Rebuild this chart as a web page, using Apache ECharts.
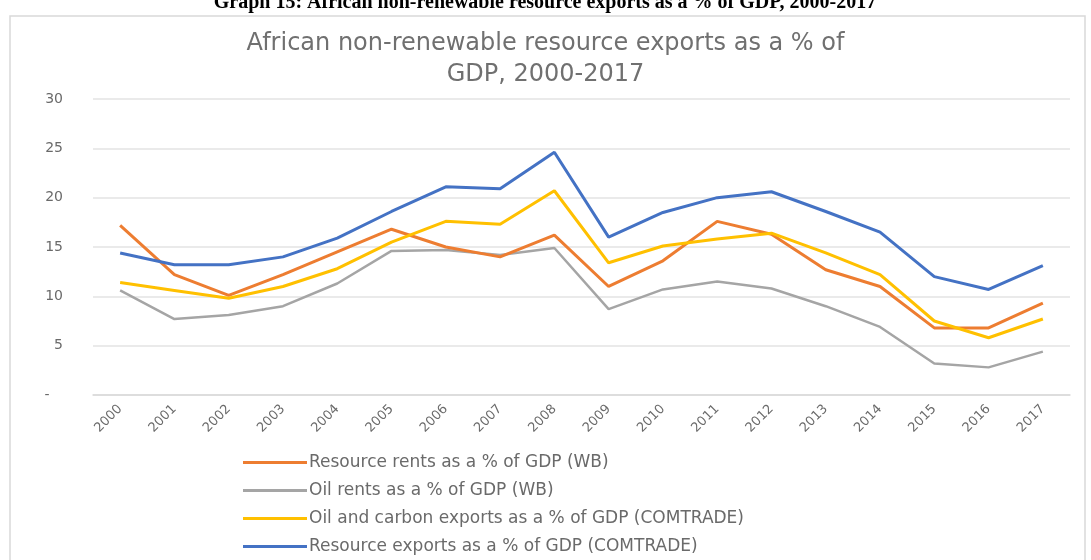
<!DOCTYPE html>
<html>
<head>
<meta charset="utf-8">
<script src="https://cdn.jsdelivr.net/npm/echarts@6/dist/echarts.min.js"></script>
<style>
html,body{margin:0;padding:0;background:#fff;}
#chart{width:1091px;height:560px;}
</style>
</head>
<body>
<div id="chart"></div>
<script>
const years = ['2000','2001','2002','2003','2004','2005','2006','2007','2008','2009','2010','2011','2012','2013','2014','2015','2016','2017'];
const resourceRentsWB = [17.2,12.2,10.1,12.2,14.5,16.8,15.0,14.0,16.2,11.0,13.6,17.6,16.3,12.7,11.0,6.8,6.8,9.3];
const oilRentsWB = [10.6,7.7,8.1,9.0,11.3,14.6,14.7,14.2,14.9,8.7,10.7,11.5,10.8,9.0,6.9,3.2,2.8,4.4];
const oilCarbonComtrade = [11.4,10.6,9.8,11.0,12.8,15.5,17.6,17.3,20.7,13.4,15.1,15.8,16.4,14.4,12.2,7.5,5.8,7.7];
const resourceExportsComtrade = [14.4,13.2,13.2,14.0,15.9,18.6,21.1,20.9,24.6,16.0,18.5,20.0,20.6,18.6,16.5,12.0,10.7,13.1];
const seriesNames = [
  'Resource rents as a % of GDP (WB)',
  'Oil rents as a % of GDP (WB)',
  'Oil and carbon exports as a % of GDP (COMTRADE)',
  'Resource exports as a % of GDP (COMTRADE)'
];
const heading = 'Graph 15: African non-renewable resource exports as a % of GDP, 2000-2017';
const chartTitle = 'African non-renewable resource exports as a % of\nGDP, 2000-2017';

const colors = ['#ED7D31','#A5A5A5','#FFC000','#4472C4'];
const widths = [3,2.5,3,3];
const dataSets = [resourceRentsWB, oilRentsWB, oilCarbonComtrade, resourceExportsComtrade];

const chart = echarts.init(document.getElementById('chart'), null, {renderer:'canvas'});
chart.setOption({
  backgroundColor:'#fff',
  animation:false,
  graphic:[
    {type:'rect', shape:{x:10,y:16,width:1075,height:560}, style:{fill:'#fff', stroke:'#D9D9D9', lineWidth:1.5}, z:-10},
    {type:'text', x:545, y:-7, style:{text:heading, fill:'#000', font:'bold 20px "Liberation Serif"', align:'center', verticalAlign:'top'}}
  ],
  title:{
    text:chartTitle, left:'center', top:23,
    textStyle:{fontFamily:'DejaVu Sans', fontSize:24, fontWeight:'normal', color:'#707070', lineHeight:31}
  },
  grid:{left:93, right:21, top:99, bottom:165, containLabel:false},
  xAxis:{
    type:'category', data:years, boundaryGap:true,
    axisLine:{show:true, lineStyle:{color:'#D9D9D9', width:1.5}},
    axisTick:{show:false},
    axisLabel:{rotate:45, color:'#6A6A6A', fontFamily:'DejaVu Sans', fontSize:13, margin:12, interval:0}
  },
  yAxis:{
    type:'value', min:0, max:30, interval:5,
    axisLine:{show:false}, axisTick:{show:false},
    splitLine:{lineStyle:{color:'#E3E3E3', width:1.5}},
    axisLabel:{color:'#6A6A6A', fontFamily:'DejaVu Sans', fontSize:14, margin:30,
      formatter:function(v){return v===0?'-   ':String(v);}}
  },
  legend: seriesNames.map((n,i)=>({
    orient:'vertical', left:243, top:454 + i*28, padding:0,
    itemWidth:64, itemHeight:3, icon:'rect',
    textStyle:{color:'#6A6A6A', fontFamily:'DejaVu Sans', fontSize:17, padding:[0,0,0,-3]},
    data:[n]
  })),
  series: seriesNames.map((n,i)=>({
    name:n, type:'line', data:dataSets[i], symbol:'none', smooth:false,
    lineStyle:{color:colors[i], width:widths[i]}, itemStyle:{color:colors[i]},
    z: i===1?1:2+i
  }))
});
</script>
</body>
</html>
